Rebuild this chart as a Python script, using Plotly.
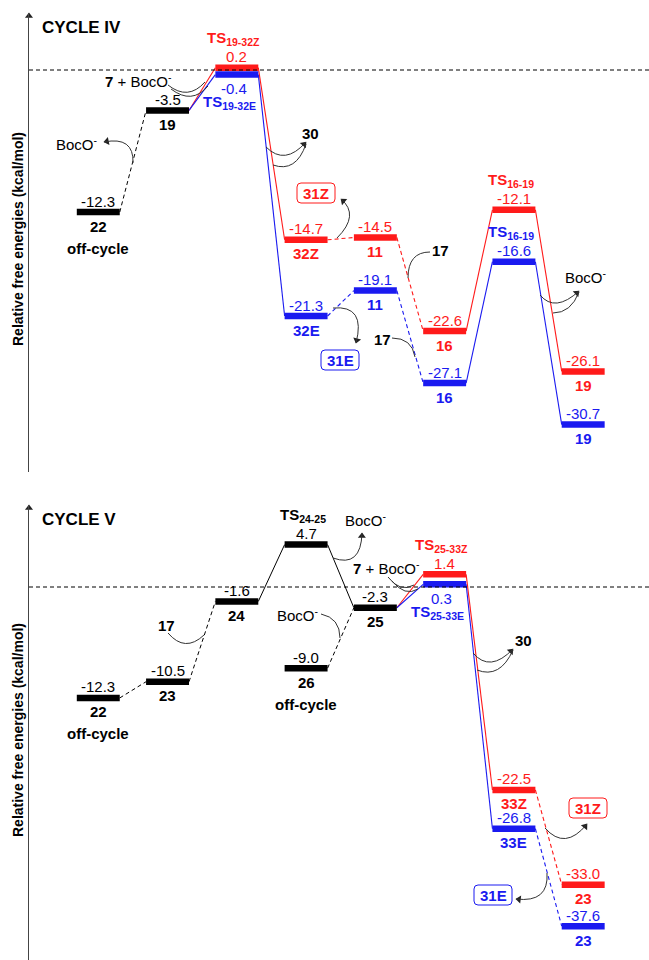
import math
import plotly.graph_objects as go

# ---------------- data ----------------
# Cycle IV
c4_black_x = [0, 1]
c4_black_v = [-12.3, -3.5]
c4_black_n = ["22", "19"]
c4_z_x = [2, 3, 4, 5, 6, 7]
c4_z_v = [0.2, -14.7, -14.5, -22.6, -12.1, -26.1]
c4_z_n = ["TS<sub>19-32Z</sub>", "32Z", "11", "16", "TS<sub>16-19</sub>", "19"]
c4_e_x = [2, 3, 4, 5, 6, 7]
c4_e_v = [-0.4, -21.3, -19.1, -27.1, -16.6, -30.7]
c4_e_n = ["TS<sub>19-32E</sub>", "32E", "11", "16", "TS<sub>16-19</sub>", "19"]

# Cycle V
c5_black_x = [0, 1, 2, 3, 3, 4]
c5_black_v = [-12.3, -10.5, -1.6, 4.7, -9.0, -2.3]
c5_black_n = ["22", "23", "24", "TS<sub>24-25</sub>", "26", "25"]
c5_z_x = [5, 6, 7]
c5_z_v = [1.4, -22.5, -33.0]
c5_z_n = ["TS<sub>25-33Z</sub>", "33Z", "23"]
c5_e_x = [5, 6, 7]
c5_e_v = [0.3, -26.8, -37.6]
c5_e_n = ["TS<sub>25-33E</sub>", "33E", "23"]

# ---------------- layout constants ----------------
W, H = 649, 960
ML = 29
XR = [-1.0, 7.95]
RED = "#FF1A1A"
BLUE = "#1A1AF0"
BLACK = "#000000"
FONT = "Arial, Liberation Sans, sans-serif"
HW = 0.31  # half width of level bars

# panel: (top px, bottom px, range lo, range hi, xref, yref)
PANELS = {
    "top": (13, 472, -34.805, 4.935, "x", "y"),
    "bot": (505, 960, -41.353, 9.091, "x2", "y2"),
}


def to_data(panel, px, py):
    top, bot, lo, hi, _, _ = PANELS[panel]
    x = XR[0] + (px - ML) / (W - ML) * (XR[1] - XR[0])
    y = hi - (py - top) / (bot - top) * (hi - lo)
    return x, y


fig = go.Figure()
annotations = []
shapes = []
heads = {"top": ([], [], []), "bot": ([], [], [])}


def add_text(panel, text, x, y, color=BLACK, size=15, yshift=0, xshift=0, **kw):
    _, _, _, _, xr, yr = PANELS[panel]
    d = dict(text=text, x=x, y=y, xref=xr, yref=yr, showarrow=False,
             font=dict(family=FONT, size=size, color=color),
             xanchor="center", yanchor="middle", yshift=yshift, xshift=xshift)
    d.update(kw)
    annotations.append(d)


def add_bars(panel, xs, vs, color):
    _, _, _, _, xr, yr = PANELS[panel]
    X, Y = [], []
    for x, v in zip(xs, vs):
        X += [x - HW, x + HW, None]
        Y += [v, v, None]
    fig.add_trace(go.Scatter(x=X, y=Y, mode="lines", xaxis=xr, yaxis=yr,
                             line=dict(color=color, width=6.5), hoverinfo="skip",
                             showlegend=False))


def add_conn(panel, series, links):
    _, _, _, _, xr, yr = PANELS[panel]
    for (sa, ia, sb, ib, color, dash) in links:
        xa, va = series[sa][0][ia], series[sa][1][ia]
        xb, vb = series[sb][0][ib], series[sb][1][ib]
        fig.add_trace(go.Scatter(x=[xa + HW, xb - HW], y=[va, vb], mode="lines",
                                 xaxis=xr, yaxis=yr,
                                 line=dict(color=color, width=1.1 if color != BLACK else 1,
                                           dash="4px,3px" if dash else "solid"),
                                 hoverinfo="skip", showlegend=False))


def add_labels(panel, xs, vs, names, color, modes):
    for i, (x, v, n) in enumerate(zip(xs, vs, names)):
        mode = modes.get(i, "std")
        val = f"{v:.1f}"
        if mode == "ts_up":
            add_text(panel, val, x, v, color, yshift=11)
            add_text(panel, f"<b>{n}</b>", x, v, color, yshift=29, xshift=-3)
        elif mode == "ts_down":
            add_text(panel, val, x, v, color, yshift=-14, xshift=-3)
            add_text(panel, f"<b>{n}</b>", x, v, color, yshift=-28, xshift=-7)
        else:
            add_text(panel, val, x, v, color, yshift=11)
            add_text(panel, f"<b>{n}</b>", x, v, color, yshift=-14)
            if mode == "off":
                add_text(panel, "<b>off-cycle</b>", x, v, color, yshift=-36)


def arrowhead(panel, end_px, dir_px):
    # dir_px: unit vector (pixels, y down) pointing where the arrow points
    dx, dy = dir_px
    cx, cy = end_px[0] - dx * 3, end_px[1] - dy * 3
    x, y = to_data(panel, cx, cy)
    ang = math.degrees(math.atan2(dx, -dy))
    heads[panel][0].append(x)
    heads[panel][1].append(y)
    heads[panel][2].append(ang)


def curve(panel, p0, c, p1, arrow=False):
    _, _, _, _, xr, yr = PANELS[panel]
    a = to_data(panel, *p0)
    b = to_data(panel, *c)
    e = to_data(panel, *p1)
    shapes.append(dict(type="path", xref=xr, yref=yr,
                       path=f"M {a[0]},{a[1]} Q {b[0]},{b[1]} {e[0]},{e[1]}",
                       line=dict(color="#333333", width=1)))
    if arrow:
        dx, dy = p1[0] - c[0], p1[1] - c[1]
        L = math.hypot(dx, dy)
        arrowhead(panel, p1, (dx / L, dy / L))


def boxed(panel, text, cx, cy, color, w=38, h=20, r=4):
    _, _, _, _, xr, yr = PANELS[panel]
    x0, x1, y0, y1 = cx - w / 2, cx + w / 2, cy - h / 2, cy + h / 2
    pts = [("M", (x0 + r, y0)), ("L", (x1 - r, y0)), ("Q", (x1, y0), (x1, y0 + r)),
           ("L", (x1, y1 - r)), ("Q", (x1, y1), (x1 - r, y1)), ("L", (x0 + r, y1)),
           ("Q", (x0, y1), (x0, y1 - r)), ("L", (x0, y0 + r)), ("Q", (x0, y0), (x0 + r, y0))]
    path = ""
    for seg in pts:
        cmd = seg[0]
        coords = [to_data(panel, *p) for p in seg[1:]]
        path += cmd + " " + " ".join(f"{q[0]},{q[1]}" for q in coords) + " "
    shapes.append(dict(type="path", xref=xr, yref=yr, path=path + "Z",
                       line=dict(color=color, width=1)))
    x, y = to_data(panel, cx, cy)
    add_text(panel, f"<b>{text}</b>", x, y, color)


def note(panel, text, px, py, color=BLACK, size=15):
    x, y = to_data(panel, px, py)
    add_text(panel, text, x, y, color, size=size)


# ---------------- Cycle IV ----------------
s4 = {"k": (c4_black_x, c4_black_v), "r": (c4_z_x, c4_z_v), "b": (c4_e_x, c4_e_v)}
add_conn("top", s4, [
    ("k", 0, "k", 1, BLACK, True),
    ("k", 1, "r", 0, RED, False), ("k", 1, "b", 0, BLUE, False),
    ("r", 0, "r", 1, RED, False), ("b", 0, "b", 1, BLUE, False),
    ("r", 1, "r", 2, RED, True), ("b", 1, "b", 2, BLUE, True),
    ("r", 2, "r", 3, RED, True), ("b", 2, "b", 3, BLUE, True),
    ("r", 3, "r", 4, RED, False), ("b", 3, "b", 4, BLUE, False),
    ("r", 4, "r", 5, RED, False), ("b", 4, "b", 5, BLUE, False),
])
add_bars("top", c4_black_x, c4_black_v, BLACK)
add_bars("top", c4_e_x, c4_e_v, BLUE)
add_bars("top", c4_z_x, c4_z_v, RED)
add_labels("top", c4_black_x, c4_black_v, c4_black_n, BLACK, {0: "off"})
add_labels("top", c4_z_x, c4_z_v, c4_z_n, RED, {0: "ts_up", 4: "ts_up"})
add_labels("top", c4_e_x, c4_e_v, c4_e_n, BLUE, {0: "ts_down", 4: "ts_up"})

# ---------------- Cycle V ----------------
s5 = {"k": (c5_black_x, c5_black_v), "r": (c5_z_x, c5_z_v), "b": (c5_e_x, c5_e_v)}
add_conn("bot", s5, [
    ("k", 0, "k", 1, BLACK, True), ("k", 1, "k", 2, BLACK, True),
    ("k", 2, "k", 3, BLACK, False), ("k", 3, "k", 5, BLACK, False),
    ("k", 4, "k", 5, BLACK, True),
    ("k", 5, "r", 0, RED, False), ("k", 5, "b", 0, BLUE, False),
    ("r", 0, "r", 1, RED, False), ("b", 0, "b", 1, BLUE, False),
    ("r", 1, "r", 2, RED, True), ("b", 1, "b", 2, BLUE, True),
])
add_bars("bot", c5_black_x, c5_black_v, BLACK)
add_bars("bot", c5_e_x, c5_e_v, BLUE)
add_bars("bot", c5_z_x, c5_z_v, RED)
add_labels("bot", c5_black_x, c5_black_v, c5_black_n, BLACK, {0: "off", 3: "ts_up", 4: "off"})
add_labels("bot", c5_z_x, c5_z_v, c5_z_n, RED, {0: "ts_up"})
add_labels("bot", c5_e_x, c5_e_v, c5_e_n, BLUE, {0: "ts_down"})

# ---------------- zero reference lines ----------------
for p in ("top", "bot"):
    _, _, _, _, xr, yr = PANELS[p]
    shapes.append(dict(type="line", xref=xr, yref=yr, x0=XR[0], x1=XR[1], y0=0, y1=0,
                       line=dict(color=BLACK, width=1, dash="4px,3px")))

# ---------------- side notes & curved arrows ----------------
BOC = "BocO<sup>-</sup>"
note("top", BOC, 77, 143)
note("top", "<b>7</b> + " + BOC, 138, 80)
note("top", "<b>30</b>", 310, 133)
note("top", "<b>17</b>", 440, 250)
note("top", "<b>17</b>", 382, 339)
note("top", BOC, 586, 276)
boxed("top", "31Z", 316, 193, RED)
boxed("top", "31E", 340, 360, BLUE)

curve("top", (133, 163), (134, 136), (104, 142), True)
curve("top", (168, 85), (188, 101), (205, 82))
curve("top", (171, 89), (192, 105), (208, 86))
curve("top", (266, 147), (285, 166), (306, 142), True)
curve("top", (273, 165), (296, 173), (306, 144))
curve("top", (337, 238), (360, 215), (341, 199), True)
curve("top", (430, 252), (408, 252), (408, 278))
curve("top", (333, 308), (366, 305), (356, 343), True)
curve("top", (392, 338), (412, 338), (415, 357))
curve("top", (540, 295), (555, 313), (579, 291), True)
curve("top", (553, 313), (571, 313), (579, 292))

note("bot", "<b>17</b>", 166, 625)
note("bot", BOC, 298, 614)
note("bot", BOC, 366, 519)
note("bot", "<b>7</b> + " + BOC, 386, 567)
note("bot", "<b>30</b>", 523, 640)
boxed("bot", "31Z", 588, 808, RED)
boxed("bot", "31E", 493, 895, BLUE)

curve("bot", (168, 633), (185, 653), (204, 635))
curve("bot", (321, 614), (340, 618), (340, 638))
curve("bot", (333, 558), (361, 568), (362, 533), True)
curve("bot", (388, 577), (400, 593), (414, 585))
curve("bot", (392, 581), (405, 597), (418, 589))
curve("bot", (473, 653), (490, 673), (513, 649), True)
curve("bot", (477, 670), (500, 679), (513, 650))
curve("bot", (545, 828), (565, 851), (587, 824), True)
curve("bot", (547, 873), (549, 903), (516, 899), True)

# titles, axis labels, axis arrowheads
for p, title, ty, ly in (("top", "CYCLE IV", 27, 239), ("bot", "CYCLE V", 519, 730)):
    x, y = to_data(p, 40, ty)
    add_text(p, f"<b>{title}</b>", x, y, BLACK, size=17, xanchor="left")
    annotations.append(dict(text="<b>Relative free energies (kcal/mol)</b>",
                            xref="paper", yref="paper",
                            x=(18 - ML) / (W - ML), y=1 - ly / H, showarrow=False,
                            textangle=-90, xanchor="center", yanchor="middle",
                            font=dict(family=FONT, size=14, color=BLACK)))
    top = PANELS[p][0]
    arrowhead(p, (ML, top), (0.0, -1.0))

for p in ("top", "bot"):
    _, _, _, _, xr, yr = PANELS[p]
    hx, hy, ha = heads[p]
    fig.add_trace(go.Scatter(x=hx, y=hy, mode="markers", xaxis=xr, yaxis=yr,
                             marker=dict(symbol="triangle-up", size=7, angle=ha,
                                         color="#222222", line=dict(width=0)),
                             cliponaxis=False, hoverinfo="skip", showlegend=False))

ydom_top = [1 - PANELS["top"][1] / H, 1 - PANELS["top"][0] / H]
ydom_bot = [1 - PANELS["bot"][1] / H, 1 - PANELS["bot"][0] / H]
axis_common = dict(showgrid=False, zeroline=False, showticklabels=False, ticks="",
                   showline=True, linecolor="#444444", linewidth=1.3, fixedrange=True)
fig.update_layout(
    width=W, height=H, autosize=False,
    margin=dict(l=ML, r=0, t=0, b=0),
    paper_bgcolor="white", plot_bgcolor="white",
    xaxis=dict(range=XR, visible=False, domain=[0, 1], anchor="y"),
    xaxis2=dict(range=XR, visible=False, domain=[0, 1], anchor="y2"),
    yaxis=dict(range=[PANELS["top"][2], PANELS["top"][3]], domain=ydom_top, anchor="x",
               **axis_common),
    yaxis2=dict(range=[PANELS["bot"][2], PANELS["bot"][3]], domain=ydom_bot, anchor="x2",
                **axis_common),
    annotations=annotations,
    shapes=shapes,
    showlegend=False,
)

fig.write_html("out.html", config={"displayModeBar": False},
               post_script="document.body.style.margin='0px';")
